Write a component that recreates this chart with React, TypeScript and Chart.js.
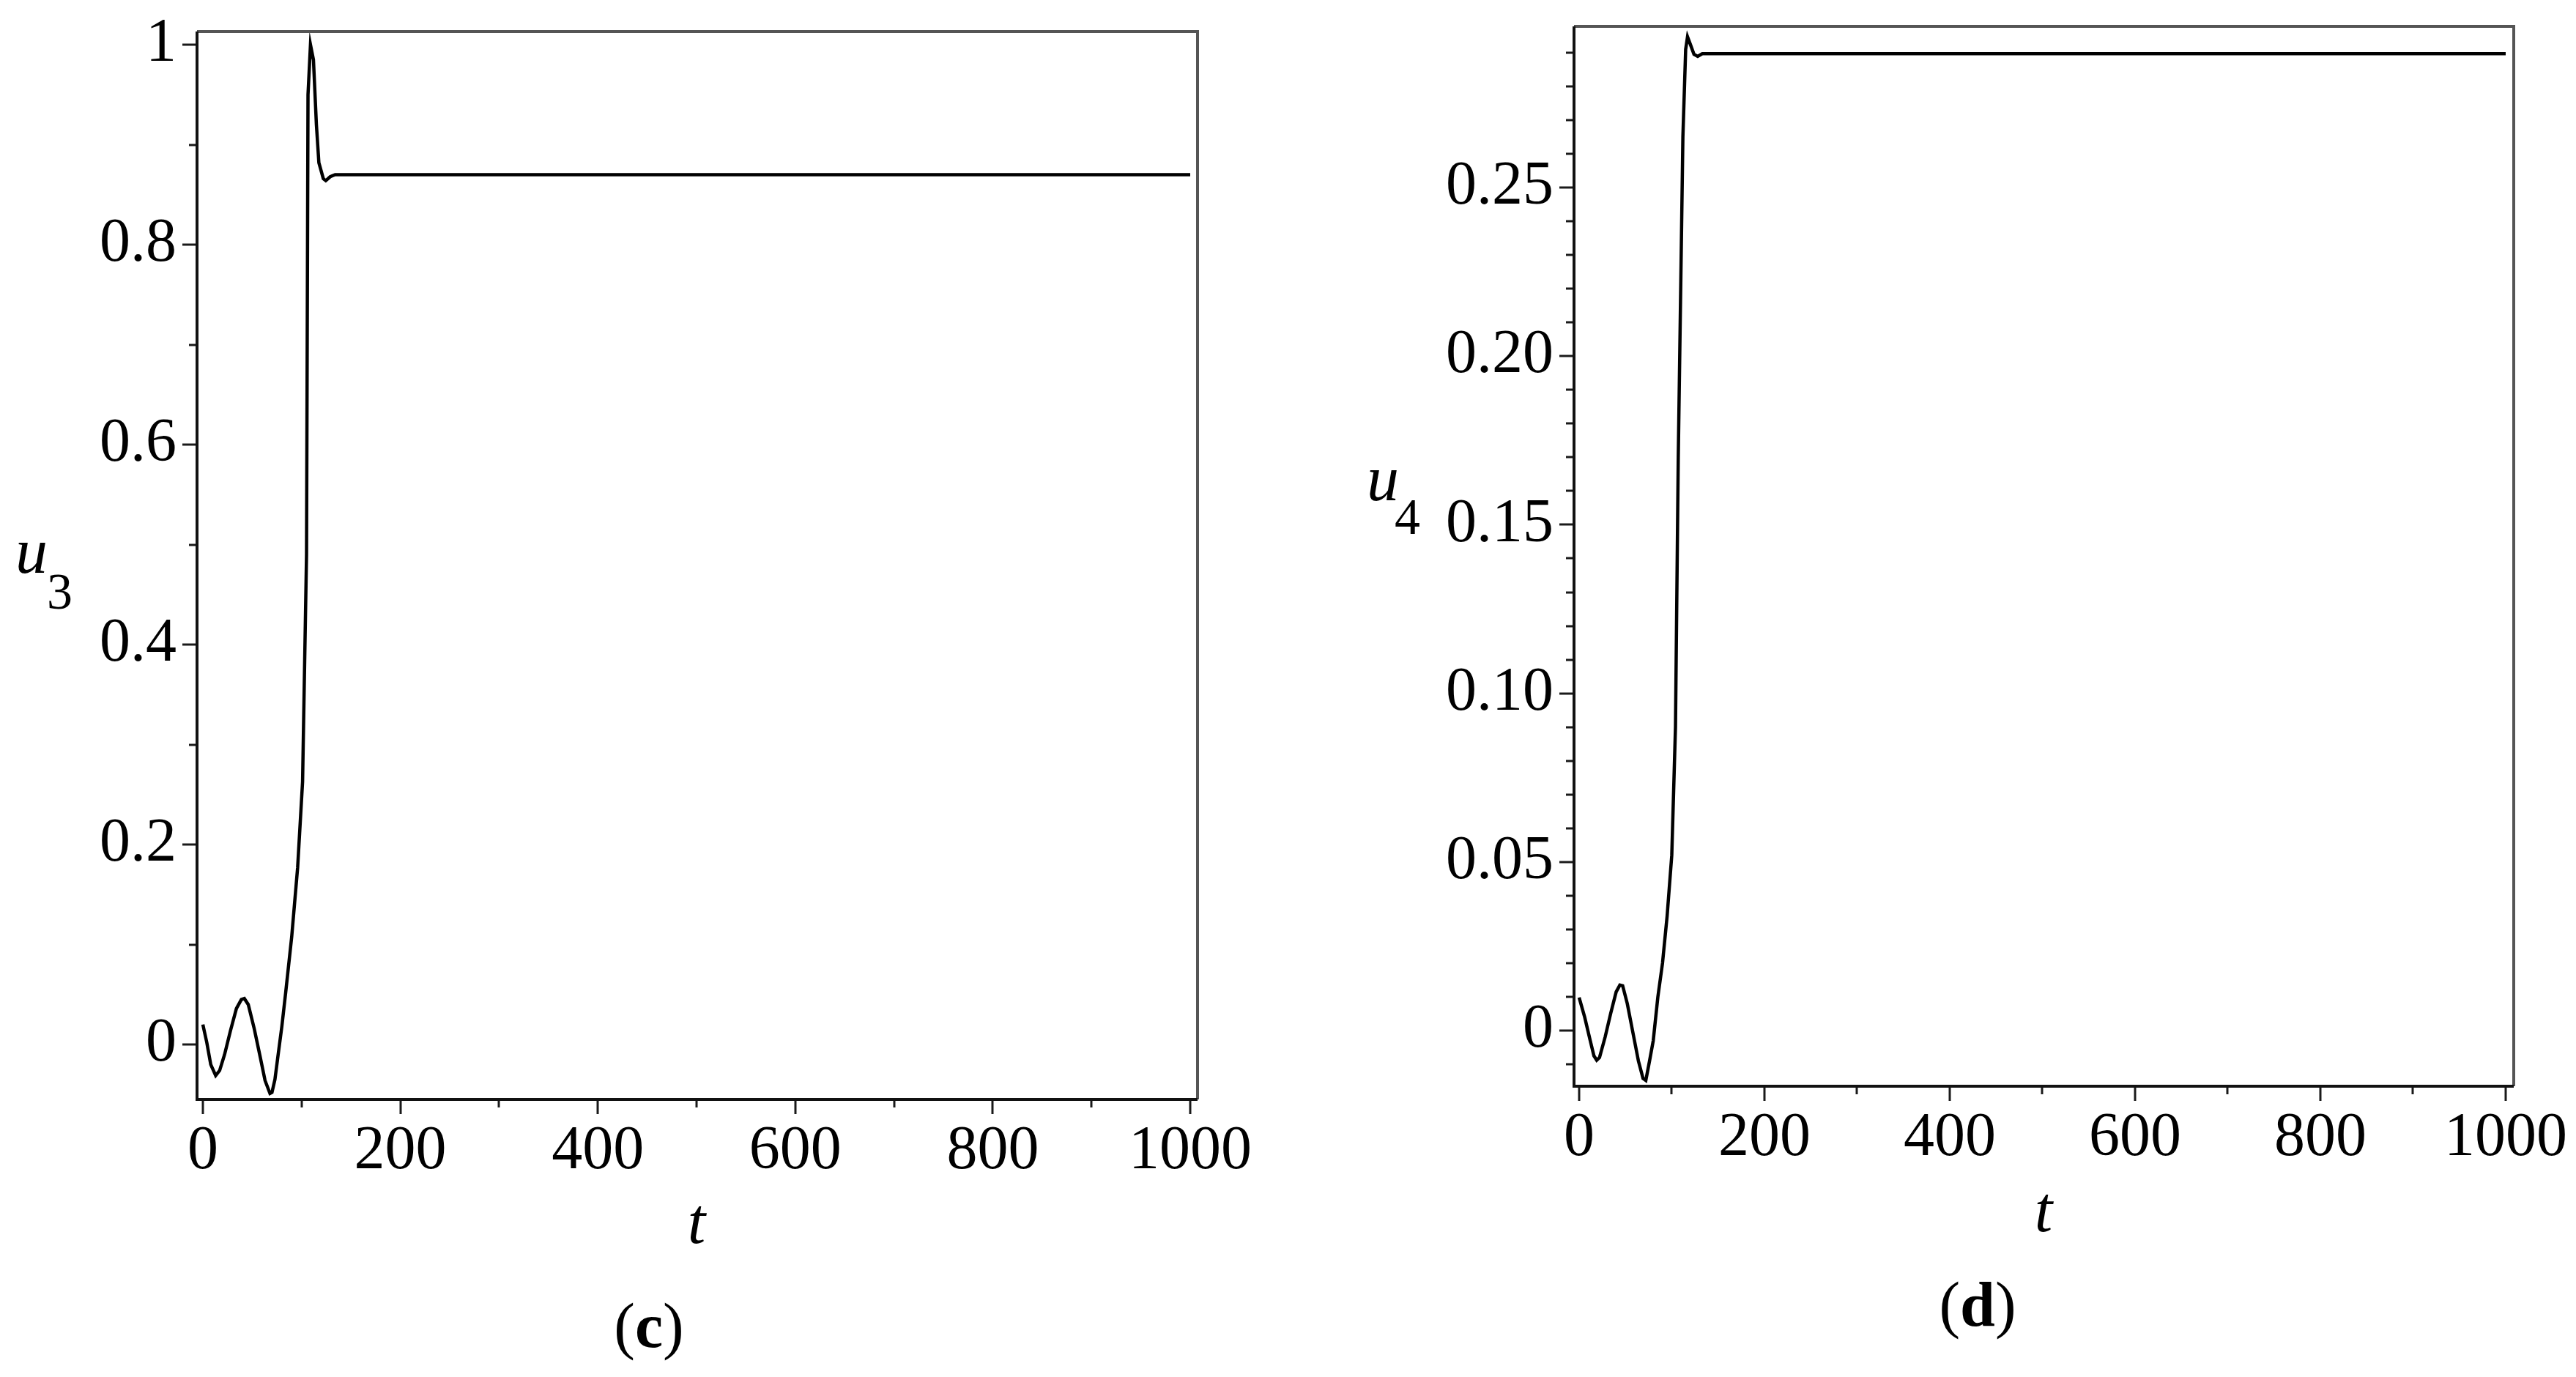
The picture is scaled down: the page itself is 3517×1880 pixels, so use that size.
import React, { useEffect, useRef } from 'react';
import { Chart, registerables } from 'chart.js';

Chart.register(...registerables);

// ---------- data ----------
const tC = [0, 4, 8, 13, 17, 22, 28, 34, 39, 42, 46, 52, 58, 63, 68, 70, 73, 76, 80, 84, 90, 96, 101, 105, 106.5, 109, 112, 115, 117.5, 122, 124.5, 129, 134, 300, 500, 700, 1000];
const u3 = [0.02, 0.002, -0.02, -0.031, -0.026, -0.01, 0.014, 0.036, 0.045, 0.046, 0.04, 0.016, -0.012, -0.036, -0.049, -0.048, -0.035, -0.012, 0.018, 0.053, 0.108, 0.177, 0.263, 0.49, 0.95, 1.0, 0.985, 0.92, 0.882, 0.866, 0.864, 0.868, 0.87, 0.87, 0.87, 0.87, 0.87];

const tD = [0, 6, 12, 16, 19, 22, 28, 34, 40, 44, 47, 52, 58, 64, 69, 72, 76, 80, 85, 90, 95, 100, 104, 107, 112, 115, 117, 120, 124, 128, 133, 300, 500, 700, 1000];
const u4 = [0.0098, 0.004, -0.003, -0.0075, -0.0088, -0.008, -0.002, 0.005, 0.0115, 0.0135, 0.0133, 0.008, -0.0005, -0.009, -0.0142, -0.0148, -0.009, -0.003, 0.01, 0.02, 0.034, 0.052, 0.09, 0.17, 0.265, 0.291, 0.2947, 0.2925, 0.2895, 0.2889, 0.2897, 0.2897, 0.2897, 0.2897, 0.2897];

const xMajorTicks = [0, 200, 400, 600, 800, 1000];
const xTickLabels = ['0', '200', '400', '600', '800', '1000'];
const xMinorTicks = [100, 300, 500, 700, 900];

const yMajorC = [0, 0.2, 0.4, 0.6, 0.8, 1];
const yLabelsC = ['0', '0.2', '0.4', '0.6', '0.8', '1'];
const yMinorC = [0.1, 0.3, 0.5, 0.7, 0.9];

const yMajorD = [0, 0.05, 0.1, 0.15, 0.2, 0.25];
const yLabelsD = ['0', '0.05', '0.10', '0.15', '0.20', '0.25'];
const yMinorD = [-0.01, 0.01, 0.02, 0.03, 0.04, 0.06, 0.07, 0.08, 0.09, 0.11, 0.12, 0.13, 0.14, 0.16, 0.17, 0.18, 0.19, 0.21, 0.22, 0.23, 0.24, 0.26, 0.27, 0.28, 0.29];

const FONT = '"Liberation Serif", "Times New Roman", serif';

// ---------- plugin: frame + major/minor tick marks ----------
const frameTicks = {
  id: 'frameTicks',
  afterDraw(chart: any, _args: any, opts: any) {
    const { ctx, chartArea: a, scales } = chart;
    const xs = scales.x;
    const ys = scales.y;
    ctx.save();
    ctx.lineCap = 'butt';
    ctx.strokeStyle = '#1a1a1a';
    ctx.lineWidth = 3;
    const drawX = (vals: number[], len: number) => {
      vals.forEach((v) => {
        const px = Math.round(xs.getPixelForValue(v));
        ctx.beginPath();
        ctx.moveTo(px, a.bottom);
        ctx.lineTo(px, a.bottom + len);
        ctx.stroke();
      });
    };
    const drawY = (vals: number[], len: number) => {
      vals.forEach((v) => {
        const py = Math.round(ys.getPixelForValue(v));
        ctx.beginPath();
        ctx.moveTo(a.left, py);
        ctx.lineTo(a.left - len, py);
        ctx.stroke();
      });
    };
    drawX(opts.xMajor, 20);
    drawX(opts.xMinor, 11);
    drawY(opts.yMajor, 20);
    drawY(opts.yMinor, 11);

    // top & right (gray)
    ctx.strokeStyle = '#555';
    ctx.lineWidth = 4;
    ctx.beginPath();
    ctx.moveTo(a.left, a.top);
    ctx.lineTo(a.right, a.top);
    ctx.lineTo(a.right, a.bottom);
    ctx.stroke();
    // left & bottom (black)
    ctx.strokeStyle = '#111';
    ctx.lineWidth = 4;
    ctx.beginPath();
    ctx.moveTo(a.left, a.top);
    ctx.lineTo(a.left, a.bottom);
    ctx.lineTo(a.right, a.bottom);
    ctx.stroke();
    ctx.restore();
  },
};

type PanelProps = {
  left: number;
  width: number;
  height: number;
  tVals: number[];
  uVals: number[];
  xMin: number;
  xMax: number;
  yMin: number;
  yMax: number;
  yMajor: number[];
  yLabels: string[];
  yMinor: number[];
  yAxisWidth: number;
  padRight: number;
  padTop: number;
  padBottom: number;
};

function Panel(p: PanelProps) {
  const ref = useRef<HTMLCanvasElement | null>(null);
  useEffect(() => {
    if (!ref.current) return;
    const chart = new Chart(ref.current, {
      type: 'line',
      data: {
        datasets: [
          {
            data: p.tVals.map((t, i) => ({ x: t, y: p.uVals[i] })),
            borderColor: '#000',
            borderWidth: 4.5,
            pointRadius: 0,
            tension: 0,
            fill: false,
          },
        ],
      },
      options: {
        animation: false,
        responsive: false,
        events: [],
        layout: { padding: { left: 0, right: p.padRight, top: p.padTop, bottom: p.padBottom } },
        plugins: {
          legend: { display: false },
          tooltip: { enabled: false },
          frameTicks: { xMajor: xMajorTicks, xMinor: xMinorTicks, yMajor: p.yMajor, yMinor: p.yMinor },
        } as any,
        scales: {
          x: {
            type: 'linear',
            min: p.xMin,
            max: p.xMax,
            grid: { display: false, drawTicks: false },
            border: { display: false },
            afterBuildTicks: (s: any) => {
              s.ticks = xMajorTicks.map((v) => ({ value: v }));
            },
            afterFit: (s: any) => {
              s.height = 150;
              s.paddingLeft = 0;
              s.paddingRight = 0;
            },
            ticks: {
              autoSkip: false,
              maxRotation: 0,
              padding: 22,
              color: '#000',
              font: { family: FONT, size: 84 },
              callback: (v: any) => xTickLabels[xMajorTicks.indexOf(Number(v))] ?? '',
            },
          },
          y: {
            type: 'linear',
            min: p.yMin,
            max: p.yMax,
            grid: { display: false, drawTicks: false },
            border: { display: false },
            afterBuildTicks: (s: any) => {
              s.ticks = p.yMajor.map((v) => ({ value: v }));
            },
            afterFit: (s: any) => {
              s.width = p.yAxisWidth;
              s.paddingTop = 0;
              s.paddingBottom = 0;
            },
            ticks: {
              autoSkip: false,
              padding: 28,
              color: '#000',
              font: { family: FONT, size: 84 },
              callback: (v: any) => {
                const i = p.yMajor.findIndex((m) => Math.abs(m - Number(v)) < 1e-9);
                return i >= 0 ? p.yLabels[i] : '';
              },
            },
          },
        },
      } as any,
      plugins: [frameTicks as any],
    });
    return () => chart.destroy();
  }, []);
  return (
    <canvas
      ref={ref}
      width={p.width}
      height={p.height}
      style={{ position: 'absolute', left: p.left, top: 0, width: p.width, height: p.height }}
    />
  );
}

// text placed by baseline (Liberation Serif: (ascent - descent)/2 = 0.3375em)
function Txt(props: { x: number; baseline: number; size: number; center?: boolean; children: React.ReactNode; italic?: boolean }) {
  const { x, baseline, size, center, italic } = props;
  return (
    <div
      style={{
        position: 'absolute',
        left: x,
        top: baseline - 0.3375 * size,
        fontFamily: FONT,
        fontSize: size,
        lineHeight: 0,
        whiteSpace: 'nowrap',
        fontStyle: italic ? 'italic' : 'normal',
        transform: center ? 'translateX(-50%)' : undefined,
        color: '#000',
      }}
    >
      {props.children}
    </div>
  );
}

export default function App() {
  return (
    <div style={{ position: 'absolute', left: 0, top: 0, width: 3517, height: 1880, background: '#fff', overflow: 'hidden' }}>
      <Panel
        left={0}
        width={1760}
        height={1700}
        tVals={tC}
        uVals={u3}
        xMin={-5.9}
        xMax={1007.4}
        yMin={-0.0549}
        yMax={1.0132}
        yMajor={yMajorC}
        yLabels={yLabelsC}
        yMinor={yMinorC}
        yAxisWidth={269}
        padRight={125}
        padTop={43}
        padBottom={49}
      />
      <Panel
        left={1780}
        width={1737}
        height={1700}
        tVals={tD}
        uVals={u4}
        xMin={-5.5}
        xMax={1008.7}
        yMin={-0.0165}
        yMax={0.2978}
        yMajor={yMajorD}
        yLabels={yLabelsD}
        yMinor={yMinorD}
        yAxisWidth={369}
        padRight={85}
        padTop={36}
        padBottom={67}
      />

      {/* axis titles */}
      <Txt x={21} baseline={783} size={88} italic>u</Txt>
      <Txt x={64} baseline={832} size={70}>3</Txt>
      <Txt x={951} baseline={1698} size={88} center italic>t</Txt>

      <Txt x={1866} baseline={684} size={88} italic>u</Txt>
      <Txt x={1904} baseline={730} size={70}>4</Txt>
      <Txt x={2790} baseline={1682} size={88} center italic>t</Txt>

      {/* captions */}
      <Txt x={886} baseline={1839} size={86} center>
        (<b>c</b>)
      </Txt>
      <Txt x={2700} baseline={1810} size={86} center>
        (<b>d</b>)
      </Txt>
    </div>
  );
}
